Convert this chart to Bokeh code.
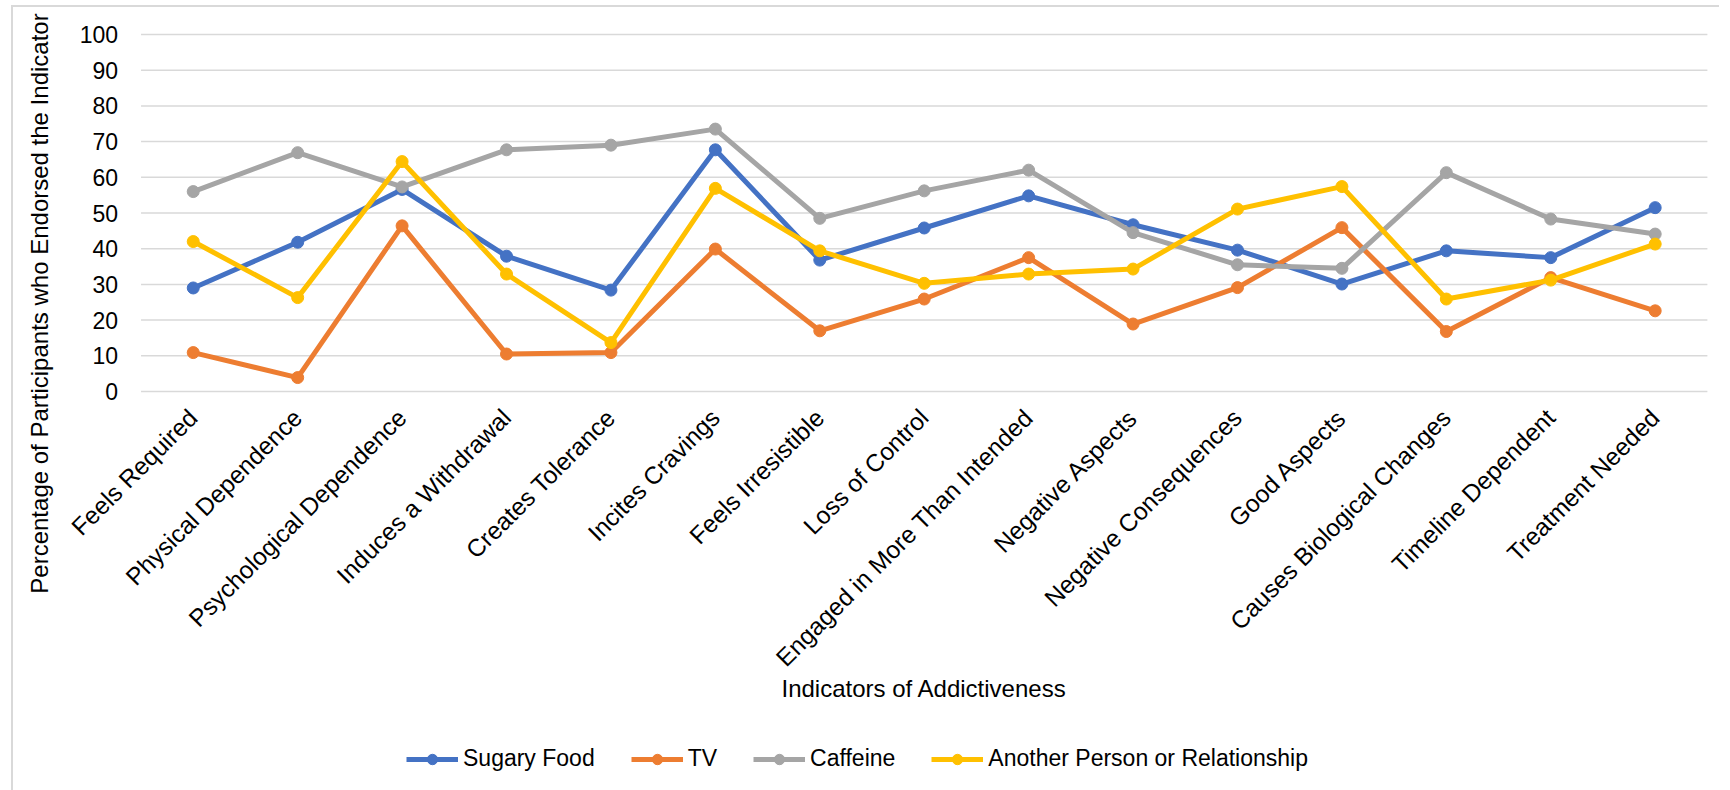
import math

from bokeh.core.properties import value
from bokeh.embed import file_html
from bokeh.models import ColumnDataSource, FactorRange, Legend, LegendItem, Range1d
from bokeh.plotting import figure
from bokeh.resources import INLINE

# Indicators of addictiveness (x categories)
indicators = [
    "Feels Required",
    "Physical Dependence",
    "Psychological Dependence",
    "Induces a Withdrawal",
    "Creates Tolerance",
    "Incites Cravings",
    "Feels Irresistible",
    "Loss of Control",
    "Engaged in More Than Intended",
    "Negative Aspects",
    "Negative Consequences",
    "Good Aspects",
    "Causes Biological Changes",
    "Timeline Dependent",
    "Treatment Needed",
]

# Percentage of participants endorsing each indicator, per target
sugary_food = [29.0, 41.8, 56.6, 37.9, 28.4, 67.7, 36.8, 45.8, 54.8, 46.7, 39.6, 30.1, 39.4, 37.5, 51.5]
tv = [10.9, 3.9, 46.4, 10.5, 10.9, 39.9, 17.0, 25.9, 37.5, 18.9, 29.1, 45.9, 16.8, 31.9, 22.6]
caffeine = [56.0, 66.9, 57.3, 67.7, 69.0, 73.5, 48.5, 56.2, 62.0, 44.5, 35.5, 34.5, 61.3, 48.3, 44.1]
another_person = [42.0, 26.3, 64.4, 32.9, 13.7, 56.9, 39.4, 30.3, 32.9, 34.3, 51.1, 57.4, 25.9, 31.2, 41.3]

series_names = ["Sugary Food", "TV", "Caffeine", "Another Person or Relationship"]
series_values = [sugary_food, tv, caffeine, another_person]
series_colors = ["#4472C4", "#ED7D31", "#A5A5A5", "#FFC000"]

y_ticks = list(range(0, 101, 10))
y_tick_labels = [str(t) for t in y_ticks]

FONT = "Liberation Sans"
TEXT = "#000000"
GRID = "#D9D9D9"

# Layout: a blank spacer category on the left holds the y labels and the
# y title, and the frame runs from just under the top edge down to the bottom
# of the chart so that every text and the legend sit inside it.
SPACER = " "
PAD = 0.116
PLOT_PX = 357      # height of the 0..100 band
TOP_PX = 24        # space above the 100 line
FRAME_PX = 775
y_top = 100 + TOP_PX * 100 / PLOT_PX
y_bottom = -(FRAME_PX - PLOT_PX - TOP_PX) * 100 / PLOT_PX
CAT_PX = 1695 / (len(indicators) + 1 + 2 * PAD)

p = figure(
    frame_width=1695,
    frame_height=FRAME_PX,
    x_range=FactorRange(SPACER, *indicators, range_padding=PAD, range_padding_units="absolute"),
    y_range=Range1d(y_bottom, y_top),
    output_backend="svg",
    toolbar_location=None,
    min_border_left=11,
    min_border_right=0,
    min_border_top=3,
    min_border_bottom=5,
    margin=(5, 0, 0, 11),
    styles={"border-top": "2px solid #D9D9D9", "border-left": "2px solid #D9D9D9"},
)
p.outline_line_color = None
p.background_fill_color = "white"
p.border_fill_color = "white"
p.xaxis.visible = False
p.yaxis.visible = False
p.xgrid.grid_line_color = None
p.ygrid.grid_line_color = None

# Horizontal grid lines across the indicator categories (0 line = x axis line)
grid_src = ColumnDataSource(dict(
    x0=[1.0] * len(y_ticks),
    x1=[1.0 + len(indicators)] * len(y_ticks),
    y=y_ticks,
))
p.segment(x0="x0", y0="y", x1="x1", y1="y", source=grid_src, line_color=GRID, line_width=1.5)

# Y tick labels, right-aligned 23 px left of the first category band
ytick_src = ColumnDataSource(dict(x=[indicators[0]] * len(y_ticks), y=y_ticks, label=y_tick_labels))
p.text(
    x="x",
    y="y",
    text="label",
    source=ytick_src,
    x_offset=-(CAT_PX / 2 + 23),
    text_align="right",
    text_baseline="middle",
    text_font=value(FONT),
    text_font_size="23px",
    text_color=TEXT,
)

# Y title
ytitle_src = ColumnDataSource(dict(
    x=[SPACER], y=[0], label=["Percentage of Participants who Endorsed the Indicator"],
))
p.text(
    x="x",
    y="y",
    text="label",
    source=ytitle_src,
    angle=math.pi / 2,
    x_offset=-49,
    y_offset=-88,
    text_align="center",
    text_baseline="middle",
    text_font=value(FONT),
    text_font_size="24px",
    text_color=TEXT,
)

# Rotated category labels under the 0 line
cat_src = ColumnDataSource(dict(x=indicators, y=[0] * len(indicators), label=indicators))
p.text(
    x="x",
    y="y",
    text="label",
    source=cat_src,
    angle=math.pi / 4,
    text_align="right",
    text_baseline="middle",
    y_offset=22,
    text_font=value(FONT),
    text_font_size="24.5px",
    text_color=TEXT,
)

# X title, centred under the categories
xtitle_src = ColumnDataSource(dict(x=[indicators[7]], y=[0], label=["Indicators of Addictiveness"]))
p.text(
    x="x",
    y="y",
    text="label",
    source=xtitle_src,
    text_align="center",
    text_baseline="middle",
    y_offset=297,
    text_font=value(FONT),
    text_font_size="24px",
    text_color=TEXT,
)

items = []
for name, vals, color in zip(series_names, series_values, series_colors):
    ln = p.line(indicators, vals, line_color=color, line_width=5, line_join="round")
    sc = p.scatter(indicators, vals, size=12, fill_color=color, line_color=color)
    items.append(LegendItem(label=name, renderers=[ln, sc]))

legend = Legend(
    items=items,
    orientation="horizontal",
    location=(382, 13),
    glyph_width=52,
    glyph_height=26,
    label_standoff=5,
    spacing=36,
    padding=0,
    margin=0,
    border_line_color=None,
    background_fill_alpha=0,
    label_text_font=FONT,
    label_text_font_size="23px",
    label_text_color=TEXT,
)
p.add_layout(legend)

open("out.html", "w").write(file_html(p, INLINE))
